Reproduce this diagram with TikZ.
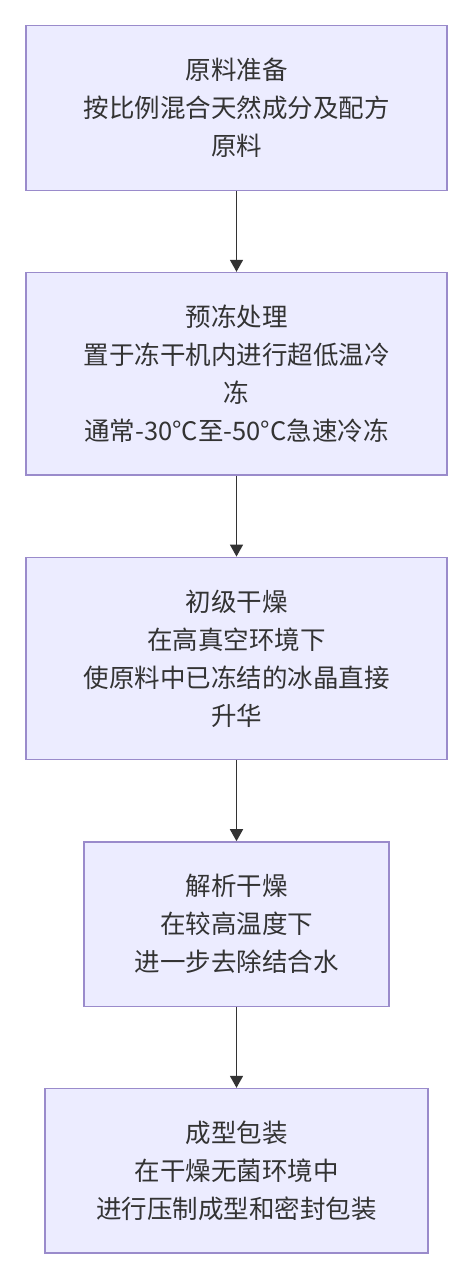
\documentclass[tikz,border=0pt]{standalone}
\usepackage{fontspec}
\setmainfont{Noto Sans CJK SC}
\usepackage{tikz}
\usetikzlibrary{arrows.meta,positioning}

\definecolor{boxfill}{HTML}{ECECFF}
\definecolor{boxline}{HTML}{9A8BCB}
\definecolor{ink}{HTML}{333333}

\begin{document}
\begin{tikzpicture}[x=1pt,
            y=1pt,
            >={Triangle[length=12pt,width=13pt]},
            node distance=81pt,
            stage/.style={draw=boxline,
                          fill=boxfill,
                          line width=1.3pt,
                          text=ink,
                          align=center,
                          inner ysep=32.4pt,
                          font=\fontsize{25.5pt}{38pt}\selectfont},
            flow/.style={->,draw=ink,line width=1.5pt}]

        \useasboundingbox (0,0) rectangle (460,-1265);

        \node[stage,minimum width=421pt] (prep) at (236.5,-108)
            {原料准备\\按比例混合天然成分及配方\\原料};
        \node[stage,minimum width=421pt] (freeze) [below=of prep]
            {预冻处理\\置于冻干机内进行超低温冷\\冻\\通常-30°C至-50°C急速冷冻};
        \node[stage,minimum width=421pt] (primary) [below=of freeze]
            {初级干燥\\在高真空环境下\\使原料中已冻结的冰晶直接\\升华};
        \node[stage,minimum width=305pt] (second) [below=of primary]
            {解析干燥\\在较高温度下\\进一步去除结合水};
        \node[stage,minimum width=383pt] (pack) [below=of second]
            {成型包装\\在干燥无菌环境中\\进行压制成型和密封包装};

        \path (prep)    edge [flow] (freeze)
              (freeze)  edge [flow] (primary)
              (primary) edge [flow] (second)
              (second)  edge [flow] (pack);

    \end{tikzpicture}
\end{document}
